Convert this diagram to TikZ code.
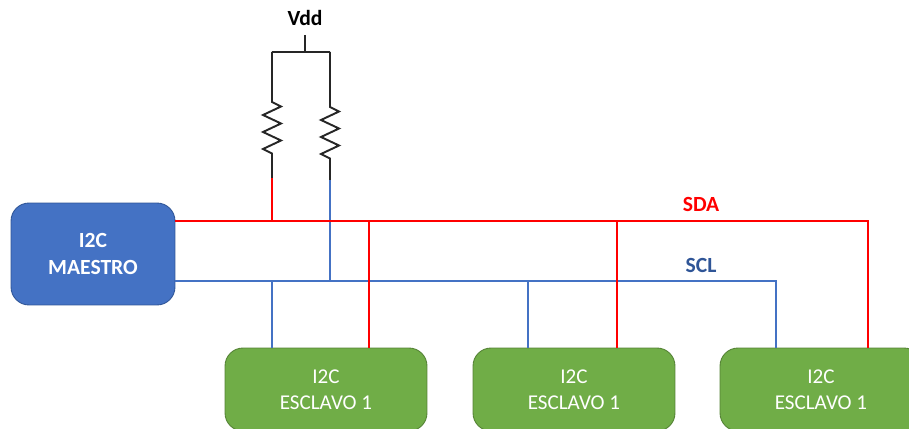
\documentclass[tikz,border=0pt]{standalone}
\usepackage{fontspec}
\setmainfont{Carlito}
\usetikzlibrary{positioning,calc}
\definecolor{sdared}{HTML}{FF0000}
\definecolor{sclblue}{HTML}{4472C4}
\definecolor{scltext}{HTML}{2F5597}
\definecolor{slavegreen}{HTML}{70AD47}
\tikzset{
    master/.style={draw=scltext,fill=sclblue,rounded corners=0.36cm,text=white,font=\fontsize{12.3}{15.8}\selectfont\bfseries,align=center,minimum width=3.28cm,minimum height=2.04cm,line width=0.5pt},
    slave/.style={draw=slavegreen!75!black,fill=slavegreen,rounded corners=0.36cm,text=white,font=\fontsize{12}{14.8}\selectfont,align=center,minimum width=4.04cm,minimum height=1.66cm,line width=0.5pt},
    wirelabel/.style={font=\fontsize{12.3}{14}\selectfont\bfseries},
    sda/.style={draw=sdared,line width=1.1pt},
    scl/.style={draw=sclblue,line width=1.1pt},
    supply/.style={draw=black!85,line width=1.1pt,line join=miter},
    resistor/.style={to path={-- ++(0,#1) -- ++(9,4.5) -- ++(-18,8.5) -- ++(18,8.5) -- ++(-18,8.5) -- ++(18,8.5) -- ++(-18,8.5) -- ++(9,4.5) -- (\tikztotarget)}}
}
\begin{document}
\begin{tikzpicture}[x=0.02cm,y=-0.02cm]
    \clip (0,0) rectangle (909,429);
    % Blocks
    \node[master] (maestro) at (93,254) {I2C\\MAESTRO};
    \node[slave] (esclavoA) at (326,389.5) {I2C\\ESCLAVO 1};
    \node[slave] (esclavoB) at (574,389.5) {I2C\\ESCLAVO 1};
    \node[slave] (esclavoC) at (821,389.5) {I2C\\ESCLAVO 1};
    % Labels
    \node[wirelabel,text=black] (vdd) at (305,18) {Vdd};
    \node[wirelabel,text=sdared] (sdalabel) at (701,204) {SDA};
    \node[wirelabel,text=scltext] (scllabel) at (701,265) {SCL};
    % Junctions
    \coordinate (stem) at (305,35);
    \coordinate (rail) at (305,52);
    \coordinate (railL) at (272,52);
    \coordinate (railR) at (330,52);
    \coordinate (resL) at (272,178);
    \coordinate (resR) at (330,180);
    \coordinate (sdaM) at (175,221);
    \coordinate (sclM) at (175,281);
    \coordinate (sdaCorner) at (868,221);
    \coordinate (sclCorner) at (776,281);
    % Pull-ups
    \draw[supply] (stem) -- (rail);
    \draw[supply] (railL) -- (railR);
    \draw[supply] (railL) to[resistor=50] (resL);
    \draw[supply] (railR) to[resistor=55] (resR);
    % SCL
    \draw[scl] (sclM) -- (sclCorner) -- (sclCorner |- esclavoC.north);
    \draw[scl] (resR) -- (resR |- sclM);
    \draw[scl] (resL |- sclM) -- (resL |- esclavoA.north);
    \draw[scl] (528,281) coordinate (sclB) -- (sclB |- esclavoB.north);
    % SDA
    \draw[sda] (sdaM) -- (sdaCorner) -- (sdaCorner |- esclavoC.north);
    \draw[sda] (resL) -- (resL |- sdaM);
    \draw[sda] (369,221) coordinate (sdaA) -- (sdaA |- esclavoA.north);
    \draw[sda] (617,221) coordinate (sdaB) -- (sdaB |- esclavoB.north);
\end{tikzpicture}
\end{document}
